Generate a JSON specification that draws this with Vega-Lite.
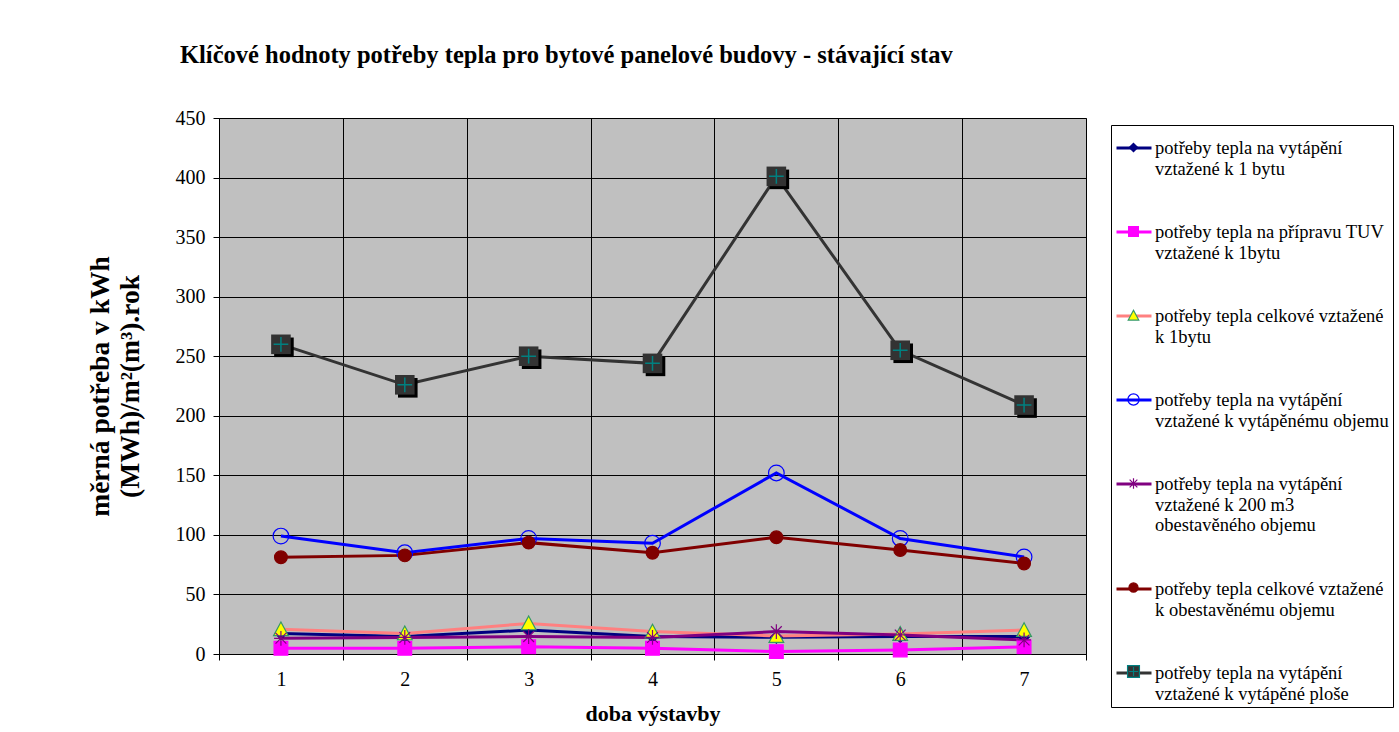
{
  "$schema": "https://vega.github.io/schema/vega-lite/v6.json",
  "width": 867,
  "height": 536,
  "autosize": "none",
  "padding": {"left": 219, "top": 118, "right": 313, "bottom": 78},
  "background": "white",
  "title": {
    "text": "Klíčové hodnoty potřeby tepla pro bytové panelové budovy - stávající stav",
    "anchor": "start",
    "frame": "group",
    "dx": -39,
    "offset": 40,
    "font": "Liberation Serif",
    "fontSize": 24.5,
    "fontWeight": "bold",
    "color": "black"
  },
  "data": {
    "values": [
      {"serie": "potřeby tepla na vytápění\nvztažené k 1 bytu", "doba": 1, "hodnota": 17.3},
      {"serie": "potřeby tepla na vytápění\nvztažené k 1 bytu", "doba": 2, "hodnota": 14.6},
      {"serie": "potřeby tepla na vytápění\nvztažené k 1 bytu", "doba": 3, "hodnota": 20.1},
      {"serie": "potřeby tepla na vytápění\nvztažené k 1 bytu", "doba": 4, "hodnota": 14.6},
      {"serie": "potřeby tepla na vytápění\nvztažené k 1 bytu", "doba": 5, "hodnota": 14.0},
      {"serie": "potřeby tepla na vytápění\nvztažené k 1 bytu", "doba": 6, "hodnota": 14.6},
      {"serie": "potřeby tepla na vytápění\nvztažené k 1 bytu", "doba": 7, "hodnota": 14.6},
      {"serie": "potřeby tepla na přípravu TUV\nvztažené k 1bytu", "doba": 1, "hodnota": 4.8},
      {"serie": "potřeby tepla na přípravu TUV\nvztažené k 1bytu", "doba": 2, "hodnota": 4.8},
      {"serie": "potřeby tepla na přípravu TUV\nvztažené k 1bytu", "doba": 3, "hodnota": 6.1},
      {"serie": "potřeby tepla na přípravu TUV\nvztažené k 1bytu", "doba": 4, "hodnota": 4.8},
      {"serie": "potřeby tepla na přípravu TUV\nvztažené k 1bytu", "doba": 5, "hodnota": 2.0},
      {"serie": "potřeby tepla na přípravu TUV\nvztažené k 1bytu", "doba": 6, "hodnota": 3.4},
      {"serie": "potřeby tepla na přípravu TUV\nvztažené k 1bytu", "doba": 7, "hodnota": 6.0},
      {"serie": "potřeby tepla celkové vztažené\nk 1bytu", "doba": 1, "hodnota": 20.7},
      {"serie": "potřeby tepla celkové vztažené\nk 1bytu", "doba": 2, "hodnota": 17.3},
      {"serie": "potřeby tepla celkové vztažené\nk 1bytu", "doba": 3, "hodnota": 25.7},
      {"serie": "potřeby tepla celkové vztažené\nk 1bytu", "doba": 4, "hodnota": 18.8},
      {"serie": "potřeby tepla celkové vztažené\nk 1bytu", "doba": 5, "hodnota": 15.1},
      {"serie": "potřeby tepla celkové vztažené\nk 1bytu", "doba": 6, "hodnota": 16.8},
      {"serie": "potřeby tepla celkové vztažené\nk 1bytu", "doba": 7, "hodnota": 20.1},
      {"serie": "potřeby tepla na vytápění\nvztažené k vytápěnému objemu", "doba": 1, "hodnota": 99},
      {"serie": "potřeby tepla na vytápění\nvztažené k vytápěnému objemu", "doba": 2, "hodnota": 85},
      {"serie": "potřeby tepla na vytápění\nvztažené k vytápěnému objemu", "doba": 3, "hodnota": 97},
      {"serie": "potřeby tepla na vytápění\nvztažené k vytápěnému objemu", "doba": 4, "hodnota": 93},
      {"serie": "potřeby tepla na vytápění\nvztažené k vytápěnému objemu", "doba": 5, "hodnota": 152},
      {"serie": "potřeby tepla na vytápění\nvztažené k vytápěnému objemu", "doba": 6, "hodnota": 97},
      {"serie": "potřeby tepla na vytápění\nvztažené k vytápěnému objemu", "doba": 7, "hodnota": 81.5},
      {"serie": "potřeby tepla na vytápění\nvztažené k 200 m3\nobestavěného objemu", "doba": 1, "hodnota": 13.2},
      {"serie": "potřeby tepla na vytápění\nvztažené k 200 m3\nobestavěného objemu", "doba": 2, "hodnota": 13.9},
      {"serie": "potřeby tepla na vytápění\nvztažené k 200 m3\nobestavěného objemu", "doba": 3, "hodnota": 14.6},
      {"serie": "potřeby tepla na vytápění\nvztažené k 200 m3\nobestavěného objemu", "doba": 4, "hodnota": 13.9},
      {"serie": "potřeby tepla na vytápění\nvztažené k 200 m3\nobestavěného objemu", "doba": 5, "hodnota": 18.8},
      {"serie": "potřeby tepla na vytápění\nvztažené k 200 m3\nobestavěného objemu", "doba": 6, "hodnota": 16.0},
      {"serie": "potřeby tepla na vytápění\nvztažené k 200 m3\nobestavěného objemu", "doba": 7, "hodnota": 11.8},
      {"serie": "potřeby tepla celkové vztažené\nk obestavěnému objemu", "doba": 1, "hodnota": 81.2},
      {"serie": "potřeby tepla celkové vztažené\nk obestavěnému objemu", "doba": 2, "hodnota": 82.8},
      {"serie": "potřeby tepla celkové vztažené\nk obestavěnému objemu", "doba": 3, "hodnota": 93.5},
      {"serie": "potřeby tepla celkové vztažené\nk obestavěnému objemu", "doba": 4, "hodnota": 85},
      {"serie": "potřeby tepla celkové vztažené\nk obestavěnému objemu", "doba": 5, "hodnota": 98},
      {"serie": "potřeby tepla celkové vztažené\nk obestavěnému objemu", "doba": 6, "hodnota": 87.3},
      {"serie": "potřeby tepla celkové vztažené\nk obestavěnému objemu", "doba": 7, "hodnota": 76},
      {"serie": "potřeby tepla na vytápění\nvztažené k vytápěné ploše", "doba": 1, "hodnota": 260},
      {"serie": "potřeby tepla na vytápění\nvztažené k vytápěné ploše", "doba": 2, "hodnota": 226},
      {"serie": "potřeby tepla na vytápění\nvztažené k vytápěné ploše", "doba": 3, "hodnota": 250},
      {"serie": "potřeby tepla na vytápění\nvztažené k vytápěné ploše", "doba": 4, "hodnota": 244},
      {"serie": "potřeby tepla na vytápění\nvztažené k vytápěné ploše", "doba": 5, "hodnota": 401},
      {"serie": "potřeby tepla na vytápění\nvztažené k vytápěné ploše", "doba": 6, "hodnota": 255},
      {"serie": "potřeby tepla na vytápění\nvztažené k vytápěné ploše", "doba": 7, "hodnota": 209}
    ]
  },
  "encoding": {
    "x": {
      "field": "doba",
      "type": "ordinal",
      "scale": {"type": "band", "paddingInner": 0, "paddingOuter": 0},
      "axis": {
        "title": "doba výstavby",
        "titleFontSize": 22,
        "labelAngle": 0,
        "tickBand": "extent",
        "grid": true,
        "labelPadding": 9,
        "titlePadding": 14
      }
    },
    "y": {
      "field": "hodnota",
      "type": "quantitative",
      "scale": {"domain": [0, 450], "nice": false},
      "axis": {
        "title": ["měrná potřeba v kWh", "(MWh)/m²(m³).rok"],
        "titleFontSize": 27.5,
        "values": [0, 50, 100, 150, 200, 250, 300, 350, 400, 450],
        "grid": true,
        "labelPadding": 8,
        "titlePadding": 31
      }
    }
  },
  "layer": [
    {
      "mark": {"type": "line", "strokeWidth": 3},
      "encoding": {
        "color": {
          "field": "serie",
          "type": "nominal",
          "sort": null,
          "scale": {"range": ["#000080", "#FF00FF", "#FF8080", "#0000FF", "#800080", "#800000", "#333333"]},
          "legend": {
            "title": null,
            "orient": "none",
            "direction": "vertical",
            "legendX": 892,
            "legendY": 7,
            "padding": 4,
            "rowPadding": 35,
            "symbolType": "stroke",
            "symbolSize": 1225,
            "symbolStrokeWidth": 3,
            "labelExpr": "split(datum.label, '\\n')",
            "labelFont": "Liberation Serif",
            "labelFontSize": 18.5,
            "labelColor": "black",
            "labelLimit": 0,
            "labelOffset": 2,
            "labelBaseline": "middle",
            "strokeColor": "black"
          }
        }
      }
    },
    {
      "transform": [{"filter": "indexof(datum.serie, 'ploše') < 0"}],
      "mark": {"type": "point", "filled": true, "opacity": 1, "size": 2400, "strokeWidth": 1.2},
      "encoding": {
        "shape": {
          "field": "serie",
          "type": "nominal",
          "scale": {
            "domain": [
              "potřeby tepla na vytápění\nvztažené k 1 bytu",
              "potřeby tepla na přípravu TUV\nvztažené k 1bytu",
              "potřeby tepla celkové vztažené\nk 1bytu",
              "potřeby tepla na vytápění\nvztažené k vytápěnému objemu",
              "potřeby tepla na vytápění\nvztažené k 200 m3\nobestavěného objemu",
              "potřeby tepla celkové vztažené\nk obestavěnému objemu",
              "potřeby tepla na vytápění\nvztažené k vytápěné ploše"
            ],
            "range": [
              "M0,-0.24L0.24,0L0,0.24L-0.24,0Z",
              "M-0.28,-0.28H0.28V0.28H-0.28Z",
              "M0,-0.3L0.3,0.26H-0.3Z",
              "M0.32,0A0.32,0.32 0 1,1 -0.32,0A0.32,0.32 0 1,1 0.32,0Z",
              "M-0.28,0H0.28M0,-0.3V0.3M-0.22,-0.22L0.22,0.22M-0.22,0.22L0.22,-0.22",
              "M0.26,0A0.26,0.26 0 1,1 -0.26,0A0.26,0.26 0 1,1 0.26,0Z",
              "M-0.34,-0.34H0.34V0.34H-0.34Z M-0.26,0H0.26M0,-0.26V0.26"
            ]
          },
          "legend": {
            "title": null,
            "orient": "none",
            "direction": "vertical",
            "legendX": 892,
            "legendY": 7,
            "padding": 4,
            "rowPadding": 35,
            "symbolSize": 1225,
            "symbolStrokeWidth": 1.2,
            "labelExpr": "split(datum.label, '\\n')",
            "labelFont": "Liberation Serif",
            "labelFontSize": 18.5,
            "labelColor": "transparent",
            "labelLimit": 0,
            "labelOffset": 2,
            "labelBaseline": "middle"
          }
        },
        "fill": {
          "field": "serie",
          "type": "nominal",
          "scale": {
            "domain": [
              "potřeby tepla na vytápění\nvztažené k 1 bytu",
              "potřeby tepla na přípravu TUV\nvztažené k 1bytu",
              "potřeby tepla celkové vztažené\nk 1bytu",
              "potřeby tepla na vytápění\nvztažené k vytápěnému objemu",
              "potřeby tepla na vytápění\nvztažené k 200 m3\nobestavěného objemu",
              "potřeby tepla celkové vztažené\nk obestavěnému objemu",
              "potřeby tepla na vytápění\nvztažené k vytápěné ploše"
            ],
            "range": ["#000080", "#FF00FF", "#FFFF00", "transparent", "transparent", "#800000", "#333333"]
          },
          "legend": {
            "title": null,
            "orient": "none",
            "direction": "vertical",
            "legendX": 892,
            "legendY": 7,
            "padding": 4,
            "rowPadding": 35,
            "symbolSize": 1225,
            "symbolStrokeWidth": 1.2,
            "labelExpr": "split(datum.label, '\\n')",
            "labelFont": "Liberation Serif",
            "labelFontSize": 18.5,
            "labelColor": "transparent",
            "labelLimit": 0,
            "labelOffset": 2,
            "labelBaseline": "middle"
          }
        },
        "stroke": {
          "field": "serie",
          "type": "nominal",
          "scale": {
            "domain": [
              "potřeby tepla na vytápění\nvztažené k 1 bytu",
              "potřeby tepla na přípravu TUV\nvztažené k 1bytu",
              "potřeby tepla celkové vztažené\nk 1bytu",
              "potřeby tepla na vytápění\nvztažené k vytápěnému objemu",
              "potřeby tepla na vytápění\nvztažené k 200 m3\nobestavěného objemu",
              "potřeby tepla celkové vztažené\nk obestavěnému objemu",
              "potřeby tepla na vytápění\nvztažené k vytápěné ploše"
            ],
            "range": ["#000080", "#FF00FF", "#339966", "#0000FF", "#800080", "#800000", "#008080"]
          },
          "legend": {
            "title": null,
            "orient": "none",
            "direction": "vertical",
            "legendX": 892,
            "legendY": 7,
            "padding": 4,
            "rowPadding": 35,
            "symbolSize": 1225,
            "symbolStrokeWidth": 1.2,
            "labelExpr": "split(datum.label, '\\n')",
            "labelFont": "Liberation Serif",
            "labelFontSize": 18.5,
            "labelColor": "transparent",
            "labelLimit": 0,
            "labelOffset": 2,
            "labelBaseline": "middle"
          }
        }
      }
    },
    {
      "transform": [{"filter": "indexof(datum.serie, 'ploše') >= 0"}],
      "mark": {"type": "point", "shape": "M-0.4,-0.4H0.4V0.4H-0.4Z", "filled": true, "color": "black", "opacity": 1, "size": 2400, "xOffset": 3, "yOffset": 3}
    },
    {
      "transform": [{"filter": "indexof(datum.serie, 'ploše') >= 0"}],
      "mark": {"type": "point", "shape": "M-0.4,-0.4H0.4V0.4H-0.4Z", "filled": true, "color": "#333333", "opacity": 1, "size": 2400}
    },
    {
      "transform": [{"filter": "indexof(datum.serie, 'ploše') >= 0"}],
      "mark": {"type": "point", "shape": "M-0.3,0H0.3M0,-0.3V0.3", "filled": false, "color": "#008080", "opacity": 1, "size": 2400, "strokeWidth": 1.5}
    }
  ],
  "config": {
    "view": {"fill": "#C0C0C0", "stroke": "#808080"},
    "axis": {
      "labelFont": "Liberation Serif",
      "labelFontSize": 20,
      "labelColor": "black",
      "titleFont": "Liberation Serif",
      "titleColor": "black",
      "titleFontWeight": "bold",
      "domainColor": "black",
      "tickColor": "black",
      "tickSize": 6,
      "gridColor": "black",
      "gridWidth": 1
    }
  }
}
